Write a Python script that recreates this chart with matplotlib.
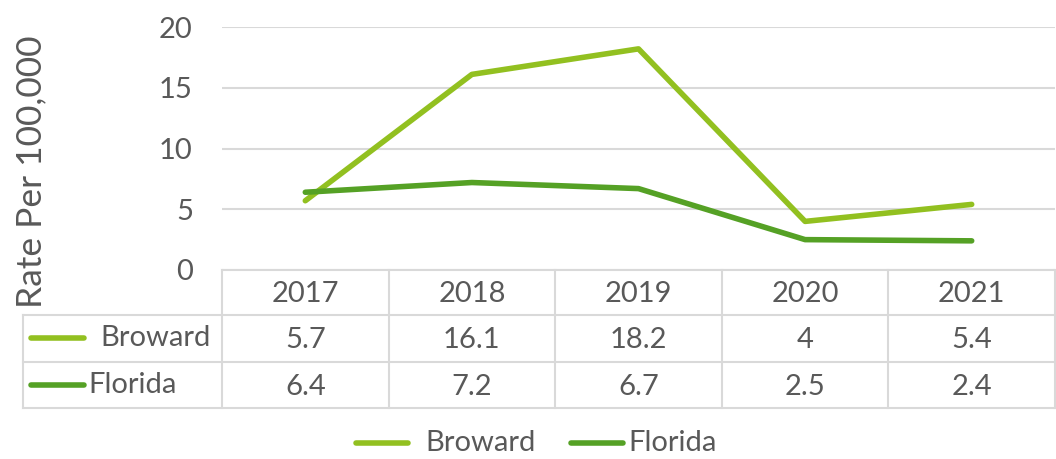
import matplotlib
matplotlib.use("Agg")
import matplotlib.pyplot as plt

years = ["2017", "2018", "2019", "2020", "2021"]
broward = [5.7, 16.1, 18.2, 4, 5.4]
florida = [6.4, 7.2, 6.7, 2.5, 2.4]
broward_labels = ["5.7", "16.1", "18.2", "4", "5.4"]
florida_labels = ["6.4", "7.2", "6.7", "2.5", "2.4"]
series_names = ["Broward", "Florida"]
yticks = [0, 5, 10, 15, 20]

C_BROW = "#92C020"
C_FLA = "#55A125"
TXT = "#595959"
GRID = "#D9D9D9"
FONT = "Lato"
FS = 21

plt.rcParams['font.family'] = [FONT, 'DejaVu Sans']

W, H = 1056, 459
fig = plt.figure(figsize=(W / 100, H / 100), dpi=100)

# pixel geometry
pl, pr, pt, pb = 222, 1055, 27, 270
ax = fig.add_axes([pl / W, 1 - pb / H, (pr - pl) / W, (pb - pt) / H])
ax.set_xlim(-0.5, len(years) - 0.5)
ax.set_ylim(0, 20)
for s in ax.spines.values():
    s.set_visible(False)
ax.set_xticks([])
ax.set_yticks(yticks)
ax.set_yticklabels([str(v) for v in yticks], fontsize=FS, color=TXT)
ax.tick_params(axis='y', length=0, pad=21)
ax.yaxis.grid(True, color=GRID, lw=1.5)
ax.set_axisbelow(True)
x = list(range(len(years)))
ax.plot(x, broward, color=C_BROW, lw=4, solid_capstyle='round', solid_joinstyle='round')
ax.plot(x, florida, color=C_FLA, lw=4, solid_capstyle='round', solid_joinstyle='round')

fig.text(31 / W, 1 - 172 / H, "Rate Per 100,000", rotation=90, ha='center', va='center',
         fontsize=25.5, color=TXT)

# overlay axes in pixel coordinates for the data table and legend
ov = fig.add_axes([0, 0, 1, 1])
ov.set_xlim(0, W)
ov.set_ylim(H, 0)
ov.axis('off')

tl = 23
rows_y = [270, 315, 362, 408]
col_w = (pr - pl) / len(years)
cols = [pl + i * col_w for i in range(len(years) + 1)]
lk = dict(color=GRID, lw=1.5)
ov.plot([pl, pr], [rows_y[0]] * 2, **lk)
for yv in rows_y[1:]:
    ov.plot([tl, pr], [yv] * 2, **lk)
for xv in cols:
    ov.plot([xv, xv], [rows_y[0], rows_y[3]], **lk)
ov.plot([tl, tl], [rows_y[1], rows_y[3]], **lk)

for i, yr in enumerate(years):
    cx = pl + (i + 0.5) * col_w
    ov.text(cx, (rows_y[0] + rows_y[1]) / 2 + 2, yr, ha='center', va='center', fontsize=FS, color=TXT)
    ov.text(cx, (rows_y[1] + rows_y[2]) / 2 + 2, broward_labels[i], ha='center', va='center', fontsize=FS, color=TXT)
    ov.text(cx, (rows_y[2] + rows_y[3]) / 2 + 2, florida_labels[i], ha='center', va='center', fontsize=FS, color=TXT)

# table row keys
ov.plot([31, 84], [338, 338], color=C_BROW, lw=4, solid_capstyle='round')
ov.text(100, 338, series_names[0], ha='left', va='center', fontsize=FS, color=TXT)
ov.plot([31, 84], [385, 385], color=C_FLA, lw=4, solid_capstyle='round')
ov.text(88, 385, series_names[1], ha='left', va='center', fontsize=FS, color=TXT)

# bottom legend
ov.plot([356, 408], [443, 443], color=C_BROW, lw=4, solid_capstyle='round')
ov.text(425, 443, series_names[0], ha='left', va='center', fontsize=FS, color=TXT)
ov.plot([571, 623], [443, 443], color=C_FLA, lw=4, solid_capstyle='round')
ov.text(628, 443, series_names[1], ha='left', va='center', fontsize=FS, color=TXT)

fig.savefig("out.png", dpi=100)
